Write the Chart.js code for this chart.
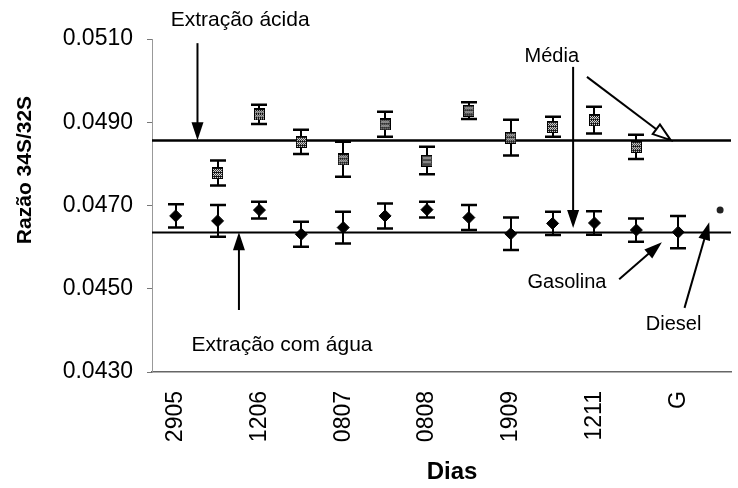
<!DOCTYPE html>
<html>
<head>
<meta charset="utf-8">
<script src="https://cdn.jsdelivr.net/npm/chart.js@4/dist/chart.umd.min.js"></script>
<style>
  html, body { margin: 0; padding: 0; background: #fff; }
  #wrap { width: 738px; height: 488px; }
</style>
</head>
<body>
<div id="wrap"><canvas id="c" width="738" height="488"></canvas></div>
<script>
// Sampling days (only every other one is labelled on the axis)
const days = ['2905', '', '1206', '', '0807', '', '0808', '', '1909', '', '1211', '', 'G', ''];

// 34S/32S ratio, water extraction (index 12 = gasoline sample)
const waterRatio = [0.04675, 0.04663, 0.04689, 0.04631, 0.04647, 0.04675, 0.04690,
                    0.04671, 0.04632, 0.04657, 0.04658, 0.04641, 0.04636];
const waterErr   = [0.00028, 0.00038, 0.00020, 0.00030, 0.00038, 0.00030, 0.00019,
                    0.00030, 0.00039, 0.00028, 0.00028, 0.00028, 0.00039];

// 34S/32S ratio, acid extraction
const acidRatio = [null, 0.04778, 0.04919, 0.04853, 0.04811, 0.04895, 0.04808,
                   0.04928, 0.04863, 0.04889, 0.04905, 0.04841];
const acidErr   = [0, 0.00030, 0.00023, 0.00029, 0.00042, 0.00030, 0.00033,
                   0.00020, 0.00043, 0.00024, 0.00032, 0.00029];

// Diesel sample (index 13)
const dieselIndex = [13];
const dieselRatio = [0.04689];

// Mean of each extraction
const meanLines = [0.04857, 0.04636];

// Y axis ticks
const yTicks = [0.0430, 0.0450, 0.0470, 0.0490, 0.0510];

// Annotation labels, in data units (x = day index, y = ratio)
const notes = [
  { text: 'Extração ácida',    x: -0.12, y: 0.05146, align: 'left',   size: 21 },
  { text: 'Extração com água', x: 0.38,  y: 0.04365, align: 'left',   size: 21 },
  { text: 'Média',             x: 8.98,  y: 0.05057, align: 'center', size: 20 },
  { text: 'Gasolina',          x: 8.40,  y: 0.04514, align: 'left',   size: 20 },
  { text: 'Diesel',            x: 11.89, y: 0.04413, align: 'center', size: 20 }
];

// Pointer arrows, in data units
const arrows = [
  { from: [0.52, 0.05090],  to: [0.52, meanLines[0]] },
  { from: [1.51, 0.04449],  to: [1.51, meanLines[1]] },
  { from: [9.49, 0.05033],  to: [9.49, 0.04646] },
  { from: [9.82, 0.05009],  to: [11.82, meanLines[0]], open: true },
  { from: [10.59, 0.04523], to: [11.61, 0.04612] },
  { from: [12.15, 0.04454], to: [12.74, 0.04660] }
];

const FONT = '"Liberation Sans", Arial, sans-serif';

// Hatched square marker for the acid-extraction series
function hatchedBox() {
  const c = document.createElement('canvas');
  c.width = 11; c.height = 12;
  const g = c.getContext('2d');
  g.fillStyle = '#fff';
  g.fillRect(0, 0, 11, 12);
  g.fillStyle = '#111';
  for (let yy = 1; yy < 11; yy++) {
    for (let xx = 1; xx < 10; xx++) {
      if ((xx + yy) % 2 === 0 || yy % 4 === 1) g.fillRect(xx, yy, 1, 1);
    }
  }
  g.strokeStyle = '#000';
  g.lineWidth = 1;
  g.strokeRect(0.5, 0.5, 10, 11);
  return c;
}

function drawArrow(ctx, x0, y0, x1, y1, open) {
  const ang = Math.atan2(y1 - y0, x1 - x0);
  const len = 18, half = 6;
  const bx = x1 - len * Math.cos(ang), by = y1 - len * Math.sin(ang);
  ctx.beginPath();
  ctx.moveTo(x0, y0);
  ctx.lineTo(open ? bx : x1 - 4 * Math.cos(ang), open ? by : y1 - 4 * Math.sin(ang));
  ctx.stroke();
  ctx.beginPath();
  ctx.moveTo(x1, y1);
  ctx.lineTo(bx + half * Math.sin(ang), by - half * Math.cos(ang));
  ctx.lineTo(bx - half * Math.sin(ang), by + half * Math.cos(ang));
  ctx.closePath();
  if (open) { ctx.fillStyle = '#fff'; ctx.fill(); ctx.stroke(); }
  else { ctx.fillStyle = '#000'; ctx.fill(); }
}

const overlay = {
  id: 'overlay',
  beforeDatasetsDraw(chart) {
    const { ctx, chartArea: a, scales: { x, y } } = chart;
    ctx.save();
    ctx.strokeStyle = '#000';
    // mean lines
    meanLines.forEach((v, k) => {
      const py = Math.round(y.getPixelForValue(v)) + 0.5;
      ctx.lineWidth = k === 0 ? 2.5 : 2;
      ctx.beginPath();
      ctx.moveTo(a.left, py);
      ctx.lineTo(a.right, py);
      ctx.stroke();
    });
    // error bars
    const bars = (vals, errs) => vals.forEach((v, i) => {
      if (v == null) return;
      const px = Math.round(x.getPixelForValue(i));
      const t = y.getPixelForValue(v + errs[i]);
      const b = y.getPixelForValue(v - errs[i]);
      ctx.lineWidth = 2;
      ctx.beginPath();
      ctx.moveTo(px, t); ctx.lineTo(px, b);
      ctx.stroke();
      ctx.lineWidth = 2.5;
      ctx.beginPath();
      ctx.moveTo(px - 8, t); ctx.lineTo(px + 8, t);
      ctx.moveTo(px - 8, b); ctx.lineTo(px + 8, b);
      ctx.stroke();
    });
    bars(waterRatio, waterErr);
    bars(acidRatio, acidErr);
    ctx.restore();
  },
  afterDatasetsDraw(chart) {
    const { ctx, scales: { x, y } } = chart;
    ctx.save();
    ctx.strokeStyle = '#000';
    ctx.lineWidth = 2;
    arrows.forEach(ar => {
      drawArrow(ctx,
        x.getPixelForValue(ar.from[0]), y.getPixelForValue(ar.from[1]),
        x.getPixelForValue(ar.to[0]), y.getPixelForValue(ar.to[1]), ar.open);
    });
    ctx.fillStyle = '#000';
    ctx.textBaseline = 'middle';
    notes.forEach(n => {
      ctx.font = `${n.size}px ${FONT}`;
      ctx.textAlign = n.align;
      ctx.fillText(n.text, x.getPixelForValue(n.x), y.getPixelForValue(n.y));
    });
    // axis titles
    ctx.font = `bold 24px ${FONT}`;
    ctx.textAlign = 'center';
    ctx.fillText('Dias', 452, 472);
    ctx.translate(25, 170);
    ctx.rotate(-Math.PI / 2);
    ctx.font = `bold 21px ${FONT}`;
    ctx.fillText('Razão 34S/32S', 0, 0);
    ctx.restore();
  }
};

new Chart(document.getElementById('c'), {
  type: 'scatter',
  data: {
    datasets: [
      {
        label: 'Extração com água',
        data: waterRatio.map((v, i) => ({ x: i, y: v })),
        pointStyle: 'rectRot',
        pointRadius: 6,
        pointHoverRadius: 6,
        backgroundColor: '#000',
        borderColor: '#000',
        borderWidth: 1
      },
      {
        label: 'Extração ácida',
        data: acidRatio.map((v, i) => ({ x: i, y: v })),
        pointStyle: hatchedBox(),
        pointRadius: 6,
        backgroundColor: '#000',
        borderColor: '#000'
      },
      {
        label: 'Diesel',
        data: dieselRatio.map((v, i) => ({ x: dieselIndex[i], y: v })),
        pointStyle: 'circle',
        pointRadius: 3.5,
        backgroundColor: '#222',
        borderColor: '#222',
        borderWidth: 0
      }
    ]
  },
  options: {
    responsive: false,
    animation: false,
    devicePixelRatio: 1,
    layout: { padding: { top: 39, right: 0, bottom: 0, left: 0 } },
    plugins: { legend: { display: false }, tooltip: { enabled: false } },
    scales: {
      x: {
        type: 'linear',
        min: -0.566,
        max: 13.26,
        afterFit(s) { s.height = 116; },
        afterBuildTicks(s) {
          s.ticks = days.map((d, i) => ({ value: i })).filter(t => days[t.value] !== '');
        },
        ticks: {
          autoSkip: false,
          minRotation: 90,
          maxRotation: 90,
          padding: 19,
          color: '#000',
          font: { family: FONT, size: 23 },
          callback: v => days[v] ?? ''
        },
        grid: { drawOnChartArea: false, drawTicks: false },
        border: { display: true, color: '#666', width: 1.5, dash: [14, 3, 3, 3] }
      },
      y: {
        min: 0.043,
        max: 0.051,
        afterFit(s) { s.width = 152; },
        afterBuildTicks(s) { s.ticks = yTicks.map(v => ({ value: v })); },
        ticks: {
          padding: 14,
          color: '#000',
          font: { family: FONT, size: 23 },
          callback: v => v.toFixed(4)
        },
        grid: { drawOnChartArea: false, drawTicks: true, tickLength: 5, color: '#777' },
        border: { display: true, color: '#999', width: 1, dash: [2, 3] }
      }
    }
  },
  plugins: [overlay]
});
</script>
</body>
</html>
